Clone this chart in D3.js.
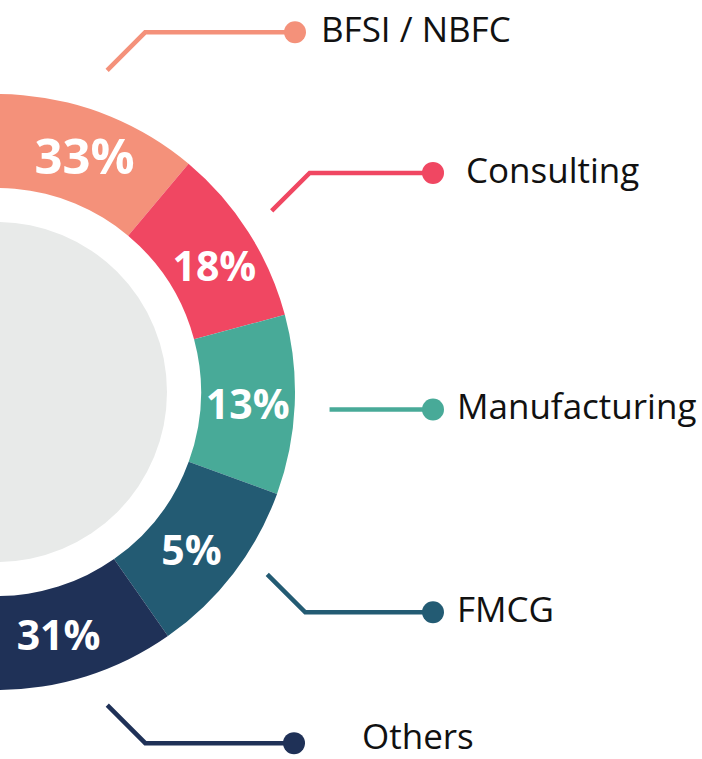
<!DOCTYPE html>
<html>
<head>
<meta charset="utf-8">
<script src="https://cdn.jsdelivr.net/npm/d3@7"></script>
<style>
  html, body { margin: 0; padding: 0; background: #ffffff; }
  svg { display: block; }
</style>
</head>
<body>
<div id="chart"></div>
<script>
// ---- data ----
const categories = ["BFSI / NBFC", "Consulting", "Manufacturing", "FMCG", "Others"];
const shares = [33, 18, 13, 5, 31];
// relative arc spans as drawn in the graphic (not proportional to the shares)
const arcSpans = [2, 1, 1, 1, 2];
const colors = ["#F4917A", "#F04762", "#48AA98", "#235B73", "#1F3157"];

// ---- layout ----
const W = 702, H = 759;
const cx = -3, cy = 392;
const outerR = 298, innerR = 204, discR = 170, labelR = 251;
const deg = Math.PI / 180;
// label angles inside the visible part of each arc (degrees, clockwise from top)
const labelAngle = [20.4, 60, 92.7, 129.2, 165.8];
// leader-line anchors (polar, relative to the donut centre) and legend placement
const leaderAngle = [18.9, 56.6, 93, 124, 160.6];
const leaderRadius = [340, 329, 333, 326, 332];
const leaderDir = [-1, -1, 0, 1, 1];
const diagLen = 38;
const dotX = [295, 433, 433, 433, 294];
const textX = [321, 466, 457, 457, 362];
const legendFont = 35;

const svg = d3.select("#chart").append("svg")
  .attr("width", W).attr("height", H);

const g = svg.append("g").attr("transform", `translate(${cx},${cy})`);

g.append("circle").attr("r", discR).attr("fill", "#E8EAE9");

const rows = categories.map((c, i) => ({ category: c, share: shares[i], span: arcSpans[i], color: colors[i], i }));

const pie = d3.pie().sort(null).value(d => d.span)
  .startAngle(-30 * deg).endAngle(215 * deg);
const arcs = pie(rows);

const arc = d3.arc().innerRadius(innerR).outerRadius(outerR);

g.selectAll("path.seg").data(arcs).join("path")
  .attr("class", "seg")
  .attr("d", arc)
  .attr("fill", d => d.data.color);

// percentage labels
const labelFont = d => d.data.share >= 33 ? 49 : 41;
g.selectAll("text.pct").data(arcs).join("text")
  .attr("class", "pct")
  .each(function (d) {
    const a = labelAngle[d.index] * deg;
    const fs = labelFont(d);
    d3.select(this)
      .attr("x", labelR * Math.sin(a))
      .attr("y", -labelR * Math.cos(a) + fs * 0.36);
  })
  .attr("text-anchor", "middle")
  .attr("font-family", "'Open Sans', sans-serif")
  .attr("font-weight", 700)
  .attr("font-size", d => labelFont(d))
  .attr("fill", "#ffffff")
  .text(d => d.data.share + "%");

// leader lines + legend
rows.forEach((d, i) => {
  const a = leaderAngle[i] * deg, r = leaderRadius[i];
  const x0 = cx + r * Math.sin(a), y0 = cy - r * Math.cos(a);
  const dir = leaderDir[i];
  const x1 = dir === 0 ? x0 : x0 + diagLen;
  const y1 = y0 + dir * diagLen;
  svg.append("polyline")
    .attr("points", [[x0, y0], [x1, y1], [dotX[i], y1]].map(p => p.join(",")).join(" "))
    .attr("fill", "none")
    .attr("stroke", d.color)
    .attr("stroke-width", 4.5);
  svg.append("circle")
    .attr("cx", dotX[i]).attr("cy", y1).attr("r", 11)
    .attr("fill", d.color);
  svg.append("text")
    .attr("x", textX[i])
    .attr("y", Math.min(y1 + 10, H - legendFont * 0.3))
    .attr("font-family", "'Open Sans', sans-serif")
    .attr("font-size", legendFont)
    .attr("fill", "#111111")
    .text(d.category);
});
</script>
</body>
</html>
